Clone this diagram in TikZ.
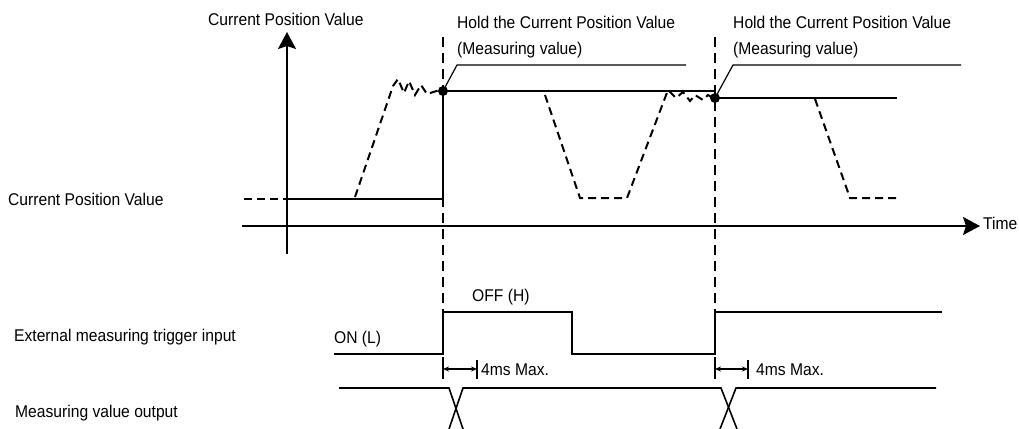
\documentclass[tikz,border=0pt]{standalone}
\usepackage{fontspec}
\setmainfont{Liberation Sans}[FakeStretch=0.92]
\usetikzlibrary{arrows.meta}
\begin{document}
\begin{tikzpicture}[x=1pt,y=-1pt,
  lbl/.style={anchor=base west,inner sep=0pt,font=\fontsize{17}{20}\selectfont},
  sig/.style={line width=2pt},
  osig/.style={line width=1.6pt},
  dsig/.style={line width=2pt,dash pattern=on 8pt off 5pt},
  guide/.style={line width=1.2pt,dash pattern=on 10pt off 6pt},
  lead/.style={line width=1.2pt},
  bigtip/.style={-{Stealth[length=17pt,width=18pt,inset=3pt]}},
  dimarr/.style={{Stealth[length=6pt,width=5pt]}-{Stealth[length=6pt,width=5pt]}},
  dot/.style={circle,fill=black,inner sep=0pt,minimum size=10pt}]
\useasboundingbox (0,0) rectangle (1019,428);

% axes
\coordinate (yb) at (287,254);
\coordinate (yt) at (287,32);
\coordinate (tl) at (242,226);
\coordinate (tr) at (980,226);
\draw[sig,bigtip] (yb) -- (yt);
\draw[sig,bigtip] (tl) -- (tr);
\node[lbl] (time) at (983,229) {Time};
\node[lbl] (ylab) at (208,26) {Current Position Value};

% guide lines
\coordinate (g1t) at (443,37); \coordinate (g1b) at (443,362);
\coordinate (g2t) at (715,37); \coordinate (g2b) at (715,362);
\draw[guide] (g1t) -- (g1b);
\draw[guide] (g2t) -- (g2b);

% current position value
\draw[dsig] (244,199) -- (287,199);
\draw[sig] (287,199) -- (443,199) -- (443,91) -- (715,91) -- (715,98) -- (897,98);
\draw[dsig] (355,197) -- (393,86) -- (398,79) -- (404,93) -- (409,81) -- (415,95) -- (421,85) -- (427,94) -- (443,89);
\draw[dsig] (443,91) -- (518,91);
\draw[dsig] (545,95) -- (580,198) -- (627,198) -- (668,90) -- (676,98) -- (683,92) -- (690,101) -- (695,95) -- (703,100) -- (708,95) -- (715,99);
\draw[dsig] (815,99) -- (850,198) -- (898,198);

% hold points and leaders
\node[dot] (d1) at (443,91) {};
\node[dot] (d2) at (715,98) {};
\coordinate (k1) at (457,65); \coordinate (e1) at (686,65);
\coordinate (k2) at (733,65); \coordinate (e2) at (961,65);
\draw[lead] (d1.center) -- (k1) -- (e1);
\draw[lead] (d2.center) -- (k2) -- (e2);
\node[lbl] (hold1) at (457,29) {Hold the Current Position Value};
\node[lbl] (meas1) at (457,55) {(Measuring value)};
\node[lbl] (hold2) at (733,29) {Hold the Current Position Value};
\node[lbl] (meas2) at (733,55) {(Measuring value)};

% left labels
\node[lbl] (lcpv) at (8,205) {Current Position Value};
\node[lbl] (lext) at (14,341) {External measuring trigger input};
\node[lbl] (lmvo) at (15,417) {Measuring value output};

% trigger
\draw[sig] (334,354) -- (443,354) -- (443,312) -- (572,312) -- (572,354) -- (715,354) -- (715,312) -- (942,312);
\node[lbl] (on) at (334,343) {ON (L)};
\node[lbl] (off) at (472,301) {OFF (H)};

% 4ms dimensions
\coordinate (a1) at (443,369); \coordinate (b1) at (477,369);
\coordinate (a2) at (715,369); \coordinate (b2) at (748,369);
\draw[lead] (443,360) -- (443,379);
\draw[lead] (477,360) -- (477,379);
\draw[lead] (715,360) -- (715,379);
\draw[lead] (748,360) -- (748,379);
\draw[lead,dimarr] (a1) -- (b1);
\draw[lead,dimarr] (a2) -- (b2);
\node[lbl] (ms1) at (481,375) {4ms Max.};
\node[lbl] (ms2) at (756,375) {4ms Max.};

% measuring value output
\draw[osig] (339,388) -- (449,388) -- (463,429);
\draw[osig] (449,429) -- (463,388) -- (715,388) -- (721,388) -- (737,429);
\draw[osig] (720,429) -- (736,388) -- (936,388);
\end{tikzpicture}
\end{document}
